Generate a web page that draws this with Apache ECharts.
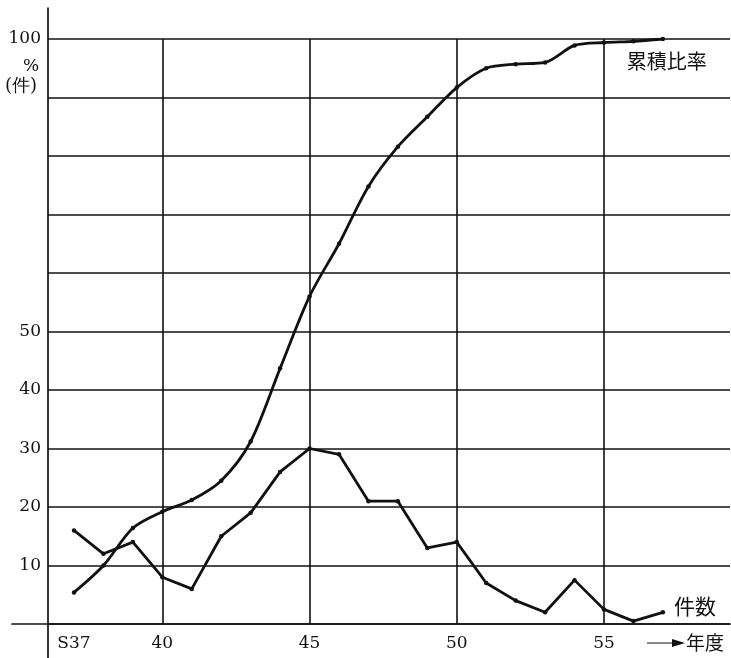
<!DOCTYPE html>
<html>
<head>
<meta charset="utf-8">
<script src="https://cdn.jsdelivr.net/npm/echarts@6/dist/echarts.min.js"></script>
<style>
  html, body { margin: 0; padding: 0; background: #fff; }
  #chart { width: 731px; height: 658px; }
</style>
</head>
<body>
<div id="chart"></div>
<script>
// Fiscal years (Showa era), yearly case counts and cumulative ratio (%)
const years = [37, 38, 39, 40, 41, 42, 43, 44, 45, 46, 47, 48, 49, 50, 51, 52, 53, 54, 55, 56, 57];
const caseCounts = [16, 12, 14, 8, 6, 15, 19, 26, 30, 29, 21, 21, 13, 14, 7, 4, 2, 7.5, 2.5, 0.5, 2];
const cumulativeRatio = [5.4, 10, 16.4, 19.2, 21.2, 24.5, 31.2, 43.7, 56, 65, 74.8, 81.6, 86.7, 91.7, 95, 95.7, 96, 98.9, 99.4, 99.6, 100];

// Axis ticks
const xGridYears = [40, 45, 50, 55];
const xLabelYears = [37, 40, 45, 50, 55];
const yLabelValues = [10, 20, 30, 40, 50, 100];

const serif = '"DejaVu Serif", "Liberation Serif", serif';
const cjk = '"Noto Sans CJK JP", "Noto Sans CJK SC", sans-serif';
const ink = '#111';

const lastIdx = years.length - 1;
const countData = years.map((y, i) => {
  const item = { value: [y, caseCounts[i]] };
  if (i === lastIdx) {
    item.label = {
      show: true, position: 'right', distance: 9, offset: [0, -6],
      formatter: '件数', fontFamily: cjk, fontSize: 21, color: ink
    };
  }
  return item;
});
const ratioData = years.map((y, i) => {
  const item = { value: [y, cumulativeRatio[i]] };
  if (i === lastIdx) {
    item.label = {
      show: true, position: 'bottom', distance: 10, offset: [4, 0],
      formatter: '累積比率', fontFamily: cjk, fontSize: 20, color: ink
    };
  }
  return item;
});

const chart = echarts.init(document.getElementById('chart'), null, { renderer: 'canvas' });

const option = {
  backgroundColor: '#fff',
  animation: false,
  grid: [
    // plotting area: 0–100 on y, grid lines inside
    { left: 48, right: 1, top: 39, bottom: 34 },
    // outer frame carrying the two long axis lines (pixel-scaled, zero at the plot origin)
    { left: 12, right: 1, top: 8, bottom: 0 }
  ],
  xAxis: [
    {
      type: 'value', gridIndex: 0, min: 36.117, max: 59.28,
      axisLine: { show: false },
      axisTick: { show: false, customValues: xGridYears },
      splitLine: { show: true, lineStyle: { color: ink, width: 1.6 } },
      axisLabel: {
        customValues: xLabelYears, margin: 11,
        fontFamily: serif, fontSize: 17, color: ink,
        formatter: v => (v === 37 ? 'S37' : String(v))
      }
    },
    {
      type: 'value', gridIndex: 1, min: -36, max: 682,
      axisLine: { show: true, onZero: true, lineStyle: { color: ink, width: 1.7 } },
      axisTick: { show: false }, axisLabel: { show: false }, splitLine: { show: false }
    }
  ],
  yAxis: [
    {
      type: 'value', gridIndex: 0, min: 0, max: 100, interval: 10,
      axisLine: { show: false },
      axisTick: { show: false },
      splitLine: { show: true, lineStyle: { color: ink, width: 1.6 } },
      axisLabel: {
        margin: 7, fontFamily: serif, fontSize: 17, color: ink,
        formatter: v => (yLabelValues.indexOf(v) >= 0 ? String(v) : '')
      }
    },
    {
      type: 'value', gridIndex: 1, min: -34, max: 616,
      axisLine: { show: true, onZero: true, lineStyle: { color: ink, width: 1.7 } },
      axisTick: { show: false }, axisLabel: { show: false }, splitLine: { show: false }
    }
  ],
  series: [
    {
      name: '件数', type: 'line', xAxisIndex: 0, yAxisIndex: 0,
      data: countData,
      symbol: 'circle', symbolSize: 4.5, showSymbol: true,
      itemStyle: { color: ink },
      lineStyle: { color: ink, width: 2.8 },
      z: 5
    },
    {
      name: '累積比率', type: 'line', xAxisIndex: 0, yAxisIndex: 0,
      data: ratioData,
      smooth: 0.3,
      symbol: 'circle', symbolSize: 4.5, showSymbol: true,
      itemStyle: { color: ink },
      lineStyle: { color: ink, width: 2.8 },
      z: 5
    }
  ],
  graphic: [
    { type: 'text', left: 23, top: 58, style: { text: '%', font: '17px ' + serif, fill: ink } },
    { type: 'text', left: 5, top: 77, style: { text: '(件)', font: '18px ' + serif, fill: ink } },
    // "→ 年度" marker for the horizontal axis
    { type: 'line', shape: { x1: 647, y1: 643, x2: 674, y2: 643 }, style: { stroke: ink, lineWidth: 1 } },
    { type: 'polygon', shape: { points: [[672, 639], [685, 643], [672, 647]] }, style: { fill: ink } },
    { type: 'text', left: 686, top: 633, style: { text: '年度', font: '19px ' + cjk, fill: ink } }
  ]
};

chart.setOption(option);
</script>
</body>
</html>
